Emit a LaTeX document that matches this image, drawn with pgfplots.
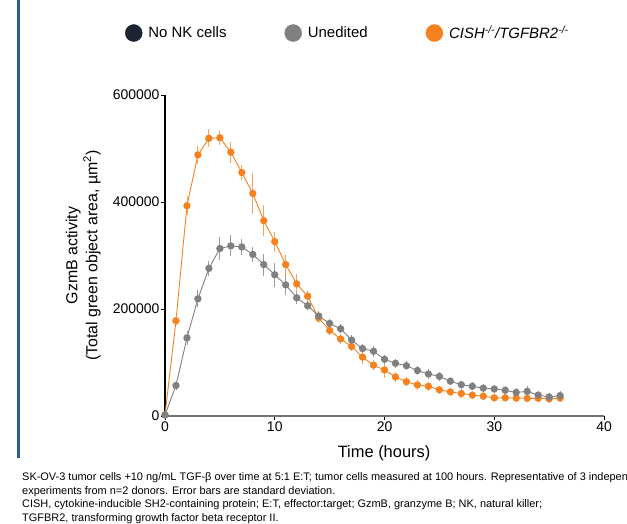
\documentclass[border=0pt]{standalone}
\usepackage{fontspec}
\setmainfont{Liberation Sans}
\usepackage{pgfplots}
\usepackage{pgfplotstable}
\pgfplotsset{compat=1.18}
\definecolor{cish}{HTML}{F5821F}
\definecolor{uned}{HTML}{808080}
\definecolor{nonk}{HTML}{1E2331}
\definecolor{barblue}{HTML}{2D5C90}
\pgfplotstableread{
t y e
0 2000 0
1 178000 3000
2 393000 12000
3 488000 11000
4 519000 11000
5 520000 8000
6 493000 14000
7 455000 8000
8 416000 32000
9 365000 23000
10 326000 13000
11 283000 13000
12 247000 12000
13 224000 4000
14 183000 3000
15 160000 3000
16 144000 3000
17 130000 3000
18 110000 7000
19 95000 4000
20 86000 9000
21 73000 3000
22 64000 3000
23 58000 3000
24 55500 3000
25 49000 2000
26 45000 2000
27 42000 2000
28 39000 2000
29 37000 2000
30 34000 2000
31 34000 2000
32 33500 2000
33 33000 2000
34 33000 2000
35 32000 2000
36 33500 2000
}\cishtab
\pgfplotstableread{
t y e
0 2000 0
1 57000 2000
2 146000 7000
3 219000 10000
4 276000 8000
5 313000 16000
6 318000 14000
7 316000 9000
8 302000 9000
9 283000 15000
10 264000 17000
11 245000 13000
12 221000 6000
13 206000 3000
14 187000 3000
15 173000 3000
16 163000 3000
17 142000 3000
18 126000 3000
19 121000 5000
20 106000 3000
21 98500 3000
22 94000 3000
23 85000 3000
24 78500 3000
25 74000 3000
26 65000 2000
27 58500 2000
28 55500 2000
29 52000 2000
30 50500 2000
31 48000 3000
32 44000 3000
33 46000 4000
34 39000 2000
35 35500 2000
36 38000 3000
}\unedtab
\begin{document}
\begin{tikzpicture}[x=1bp,y=1bp]
\useasboundingbox (0,0) rectangle (627,524);
\clip (0,0) rectangle (627,524);
\fill[barblue] (17,66) rectangle (19.5,524);
\begin{axis}[
  at={(165bp,108bp)}, anchor=south west,
  scale only axis, width=439bp, height=321bp,
  xmin=0, xmax=40, ymin=0, ymax=600000,
  xtick={0,10,20,30,40}, ytick={0,200000,400000,600000},
  scaled y ticks=false,
  /pgf/number format/.cd, fixed, 1000 sep={}, assume math mode=true,
  /pgfplots/.cd,
  axis x line*=bottom, axis y line*=left,
  x axis line style={line width=1.5bp, draw=uned!90!black, -},
  y axis line style={line width=1.1bp, draw=black, -},
  tick align=outside, major tick length=4bp,
  tick style={black, line width=0.9bp},
  tick label style={font=\fontsize{14}{16}\selectfont},
  yticklabel style={inner sep=1.5bp},
  xticklabel style={inner sep=2bp},
  clip=false,
  xlabel={Time (hours)},
  xlabel style={at={(axis description cs:0.499,-0.115)}, anchor=center, inner sep=0, font=\fontsize{16.5}{19}\selectfont},
  ylabel={GzmB activity\\(Total green object area, µm\textsuperscript{2})},
  ylabel style={at={(axis description cs:-0.146,0.5)}, anchor=south, rotate=0, inner sep=0, align=center, font=\fontsize{16}{20}\selectfont},
  legend columns=3,
  legend style={at={(axis description cs:-0.091,1.193)}, anchor=west, draw=none, fill=none, inner sep=0, outer sep=0,
    font=\fontsize{15}{18}\selectfont,
    /tikz/every odd column/.append style={column sep=4bp},
    /tikz/every even column/.append style={column sep=56bp}},
]
\addlegendimage{legend image code/.code={\fill[nonk] (8.5bp,0bp) circle (8.5bp);}}
\addlegendentry{No NK cells}
\addlegendimage{legend image code/.code={\fill[uned] (8.5bp,0bp) circle (8.5bp);}}
\addlegendentry{Unedited}
\addlegendimage{legend image code/.code={\fill[cish] (8.5bp,0bp) circle (8.5bp);}}
\addlegendentry{\textit{CISH\textsuperscript{-/-}/TGFBR2\textsuperscript{-/-}}}
\addplot[forget plot, cish, line width=0.9bp, mark=*, mark size=3.2bp, mark options={solid, fill=cish, draw=cish},
  error bars/.cd, y dir=both, y explicit,
  error bar style={cish!75!white, line width=0.9bp},
  error mark options={cish!75!white, mark size=3bp, line width=0.9bp}]
  table[x=t, y=y, y error=e]{\cishtab};
\addplot[forget plot, uned, line width=0.9bp, mark=*, mark size=3.2bp, mark options={solid, fill=uned, draw=uned},
  error bars/.cd, y dir=both, y explicit,
  error bar style={uned!80!white, line width=0.9bp},
  error mark options={uned!80!white, mark size=3bp, line width=0.9bp}]
  table[x=t, y=y, y error=e]{\unedtab};
\end{axis}
\begin{scope}[every node/.style={anchor=base west, inner sep=0, font=\fontsize{11}{13}\selectfont}]
\node at (22,43) {SK-OV-3 tumor cells +10 ng/mL TGF-β over time at 5:1 E:T; tumor cells measured at 100 hours. Representative of 3 independent};
\node at (22,29.5) {experiments from n=2 donors. Error bars are standard deviation.};
\node at (22,16) {CISH, cytokine-inducible SH2-containing protein; E:T, effector:target; GzmB, granzyme B; NK, natural killer;};
\node at (22,2.5) {TGFBR2, transforming growth factor beta receptor II.};
\end{scope}
\end{tikzpicture}
\end{document}
